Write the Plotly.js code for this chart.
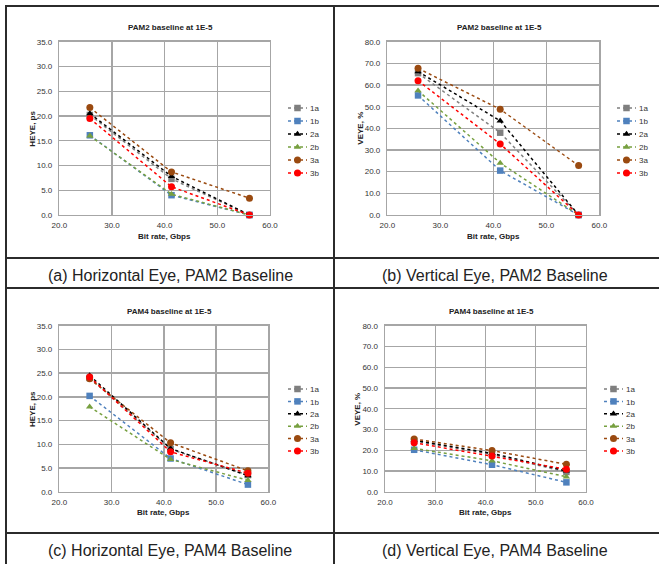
<!DOCTYPE html>
<html><head><meta charset="utf-8">
<script src="https://cdn.plot.ly/plotly-3.0.1.min.js"></script>
<style>html,body{margin:0;padding:0;background:#fff}#chart{width:659px;height:564px}</style>
</head><body><div id="chart"></div>
<script>
// ---------- data ----------
const bitRate = [25.8, 41.3, 56.1];
const seriesNames = ['1a', '1b', '2a', '2b', '3a', '3b'];
const xTicks = [20, 30, 40, 50, 60];

// (a) Horizontal eye, PAM2 baseline (ps)
const heyePam2 = [
  [20.2, 7.3, 0.0],
  [16.1, 4.0, 0.0],
  [20.5, 7.8, 0.0],
  [16.0, 4.2, 0.0],
  [21.7, 8.7, 3.4],
  [19.5, 5.7, 0.0]
];
// (b) Vertical eye, PAM2 baseline (%)
const veyePam2 = [
  [65.5, 38.0, 0.0],
  [55.2, 20.5, 0.0],
  [66.2, 43.5, 0.0],
  [57.4, 24.0, 0.0],
  [67.7, 48.8, 22.8],
  [62.0, 32.8, 0.0]
];
// (c) Horizontal eye, PAM4 baseline (ps)
const heyePam4 = [
  [24.0, 9.0, 3.5],
  [20.2, 7.0, 1.5],
  [24.5, 9.1, 3.4],
  [17.9, 6.8, 2.4],
  [23.8, 10.3, 4.4],
  [24.2, 8.4, 3.9]
];
// (d) Vertical eye, PAM4 baseline (%)
const veyePam4 = [
  [24.5, 18.0, 9.5],
  [20.2, 13.0, 4.5],
  [24.8, 18.5, 10.0],
  [20.9, 14.9, 7.2],
  [25.4, 19.8, 13.2],
  [23.6, 17.2, 10.8]
];
const chartTitles = ['PAM2 baseline at 1E-5', 'PAM2 baseline at 1E-5', 'PAM4 baseline at 1E-5', 'PAM4 baseline at 1E-5'];
const yTitles = ['HEYE, ps', 'VEYE, %', 'HEYE, ps', 'VEYE, %'];
const xTitle = 'Bit rate, Gbps';
const captions = ['(a) Horizontal Eye, PAM2 Baseline', '(b) Vertical Eye, PAM2 Baseline',
                  '(c) Horizontal Eye, PAM4 Baseline', '(d) Vertical Eye, PAM4 Baseline'];
const yMax = [35, 80, 35, 80];
const yStep = [5, 10, 5, 10];

// ---------- styles ----------
const colors = ['#7f7f7f', '#4f81bd', '#000000', '#77a040', '#9a4a10', '#ff0000'];
const symbols = ['square', 'square', 'triangle-up', 'triangle-up', 'circle', 'circle'];
const W = 659, H = 564;
const px = p => p / W;
const py = p => 1 - p / H;
// plot-area rectangles in pixels [left, right, top, bottom]
const boxes = [
  [59.3, 270.0, 41.7, 215.0],
  [387.3, 599.3, 41.7, 215.0],
  [59.3, 268.3, 325.7, 491.7],
  [385.0, 586.0, 325.7, 491.7]
];
// legend line start x, first entry centre y, entry spacing
const legendSpec = [[288, 108, 13], [617, 108, 13], [288, 389, 12.4], [604, 389, 12.4]];
const captionPos = [[170, 276], [495, 276], [170, 550], [495, 550]];
const panelData = [heyePam2, veyePam2, heyePam4, veyePam4];
const FONT = 'Liberation Sans, Arial, sans-serif';

const traces = [];
const layout = {
  width: W, height: H,
  margin: {l: 0, r: 0, t: 0, b: 0},
  paper_bgcolor: '#ffffff', plot_bgcolor: '#ffffff',
  font: {family: FONT, size: 8, color: '#333333'},
  annotations: [], shapes: []
};

panelData.forEach((panel, p) => {
  const suf = p === 0 ? '' : String(p + 1);
  const b = boxes[p];
  panel.forEach((vals, s) => {
    traces.push({
      type: 'scatter', mode: 'lines+markers',
      x: bitRate, y: vals, name: seriesNames[s],
      xaxis: 'x' + suf, yaxis: 'y' + suf,
      legend: 'legend' + suf,
      line: {color: colors[s], width: 1.5, dash: 'dot'},
      marker: {color: colors[s], symbol: symbols[s], size: symbols[s] === 'circle' ? 7 : 6.5},
      cliponaxis: false
    });
  });
  const axStyle = {
    showgrid: true, gridcolor: '#a6a6a6', gridwidth: 1.4,
    showline: true, linecolor: '#a6a6a6', linewidth: 1.4, mirror: true,
    zeroline: false, ticks: '', tickfont: {family: FONT, size: 8, color: '#333333'},
    tickformat: '.1f', fixedrange: true
  };
  layout['xaxis' + suf] = Object.assign({}, axStyle, {
    domain: [px(b[0]), px(b[1])], range: [20, 60], tickvals: xTicks,
    anchor: 'y' + suf, ticklabelstandoff: 2
  });
  layout['yaxis' + suf] = Object.assign({}, axStyle, {
    domain: [py(b[3]), py(b[2])], range: [0, yMax[p]], dtick: yStep[p], tick0: 0,
    anchor: 'x' + suf, ticklabelstandoff: 4
  });
  layout['legend' + suf] = {
    x: px(Math.min(legendSpec[p][0] - 5, 590)), y: py(legendSpec[p][1] - 15), xanchor: 'left', yanchor: 'top',
    bgcolor: 'rgba(0,0,0,0)', font: {family: FONT, size: 8, color: '#333333'},
    itemwidth: 30, tracegroupgap: 0
  };
  const cx = (b[0] + b[1]) / 2;
  layout.annotations.push(
    {text: '<b>' + chartTitles[p] + '</b>', x: px(cx + 6), y: py(b[2] - 14), xref: 'paper', yref: 'paper',
     showarrow: false, font: {family: FONT, size: 8, color: '#222'}, xanchor: 'center', yanchor: 'middle'},
    {text: '<b>' + yTitles[p] + '</b>', x: px(b[0] - 27), y: py((b[2] + b[3]) / 2), xref: 'paper', yref: 'paper',
     showarrow: false, textangle: -90, font: {family: FONT, size: 8, color: '#222'}, xanchor: 'center', yanchor: 'middle'},
    {text: '<b>' + xTitle + '</b>', x: px(cx), y: py(b[3] + 21), xref: 'paper', yref: 'paper',
     showarrow: false, font: {family: FONT, size: 8, color: '#222'}, xanchor: 'center', yanchor: 'middle'},
    {text: captions[p], x: px(captionPos[p][0]), y: py(captionPos[p][1]), xref: 'paper', yref: 'paper',
     showarrow: false, font: {family: FONT, size: 16, color: '#222'}, xanchor: 'center', yanchor: 'middle'}
  );
});

// table frame
const frame = {color: '#2b2b2b', width: 2};
[[5, 6, W, 6], [5, 258, W, 258], [5, 288, W, 288], [5, 533, W, 533],
 [6, 5, 6, H], [334, 5, 334, H]].forEach(l => {
  layout.shapes.push({type: 'line', xref: 'paper', yref: 'paper',
    x0: px(l[0]), y0: py(l[1]), x1: px(l[2]), y1: py(l[3]), line: frame, layer: 'above'});
});

// compact Excel-like legend entries (short line, tight spacing) - idempotent
function compactLegends() {
  const gd = document.getElementById('chart');
  const root = gd.getBoundingClientRect();
  const groups = Array.from(gd.querySelectorAll('g.infolayer > g')).filter(g => {
    const c = (g.getAttribute('class') || '').trim();
    return /^legend\d*$/.test(c);
  });
  groups.forEach(lg => {
    const cls = lg.getAttribute('class').trim();
    const num = cls === 'legend' ? 1 : parseInt(cls.replace('legend', ''), 10);
    const spec = legendSpec[num - 1];
    if (!spec) return;
    lg.querySelectorAll('[clip-path]').forEach(el => el.removeAttribute('clip-path'));
    const items = Array.from(lg.querySelectorAll('g.traces'));
    if (!items.length) return;
    items.forEach(it => {
      it.querySelectorAll('.legendlines path').forEach(pth => pth.setAttribute('d', 'M5,0h19'));
      it.querySelectorAll('.legendpoints path').forEach(pth => pth.setAttribute('transform', 'translate(14.5,0)'));
      const t = it.querySelector('text');
      if (t) {
        t.setAttribute('x', 27);
        t.querySelectorAll('tspan').forEach(ts => { if (ts.hasAttribute('x')) ts.setAttribute('x', 27); });
      }
    });
    const m0 = /translate\(\s*([-\d.]+)[ ,]+([-\d.]+)/.exec(items[0].getAttribute('transform') || '');
    const x0 = m0 ? parseFloat(m0[1]) : 0;
    const y0 = m0 ? parseFloat(m0[2]) : 0;
    items.forEach((it, i) => it.setAttribute('transform', 'translate(' + x0 + ',' + (y0 + i * spec[2]) + ')'));
    const first = items[0].querySelector('.legendlines path') || items[0];
    const fr = first.getBoundingClientRect();
    const dx = spec[0] - (fr.left - root.left);
    const dy = spec[1] - ((fr.top + fr.bottom) / 2 - root.top);
    items.forEach((it, i) => {
      it.setAttribute('transform', 'translate(' + (x0 + dx) + ',' + (y0 + dy + i * spec[2]) + ')');
    });
  });
}

const gdEl = document.getElementById('chart');
Plotly.newPlot(gdEl, traces, layout, {staticPlot: true, displayModeBar: false}).then(() => {
  compactLegends();
  gdEl.on('plotly_afterplot', compactLegends);
  setTimeout(compactLegends, 0);
  setTimeout(compactLegends, 50);
});
</script></body></html>
